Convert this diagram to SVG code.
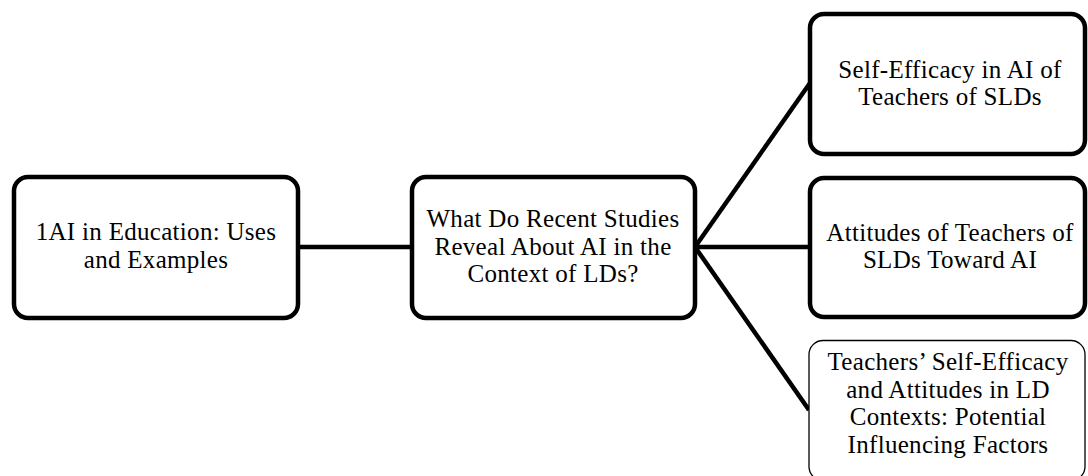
<svg xmlns="http://www.w3.org/2000/svg" width="1088" height="476" viewBox="0 0 1088 476">
<style>
.box{fill:#fff;stroke:#000;stroke-width:4.5}
.thin{fill:#fff;stroke:#000;stroke-width:1.3}
.conn{stroke:#000;stroke-width:4.5;fill:none}
text{font-family:"Liberation Serif","Times New Roman",serif;font-size:25px;fill:#000;text-anchor:middle;letter-spacing:0.3px}
</style>
<rect width="1088" height="476" fill="#fff"/>
<g id="connectors">
<line class="conn" x1="298" y1="247" x2="412" y2="247"/>
<line class="conn" x1="695" y1="247" x2="810" y2="83"/>
<line class="conn" x1="695" y1="247" x2="810" y2="247"/>
<line class="conn" x1="695" y1="247" x2="809" y2="410"/>
</g>
<g id="node1">
<rect class="box" x="14" y="177" width="284" height="141" rx="14"/>
<text x="156" y="240">1AI in Education: Uses</text>
<text x="156" y="268">and Examples</text>
</g>
<g id="node2">
<rect class="box" x="412" y="177" width="283" height="141" rx="14"/>
<text x="553" y="227">What Do Recent Studies</text>
<text x="553" y="254.5">Reveal About AI in the</text>
<text x="553" y="282">Context of LDs?</text>
</g>
<g id="node3">
<rect class="box" x="810" y="14" width="275" height="140" rx="14"/>
<text x="950" y="78">Self-Efficacy in AI of</text>
<text x="950" y="105">Teachers of SLDs</text>
</g>
<g id="node4">
<rect class="box" x="810" y="178" width="275" height="139" rx="14"/>
<text x="950" y="241">Attitudes of Teachers of</text>
<text x="950" y="268">SLDs Toward AI</text>
</g>
<g id="node5">
<rect class="thin" x="809" y="340.5" width="276" height="140" rx="14"/>
<text x="948" y="370">Teachers’ Self-Efficacy</text>
<text x="948" y="397.5">and Attitudes in LD</text>
<text x="948" y="425">Contexts: Potential</text>
<text x="948" y="452.5">Influencing Factors</text>
</g>
</svg>
